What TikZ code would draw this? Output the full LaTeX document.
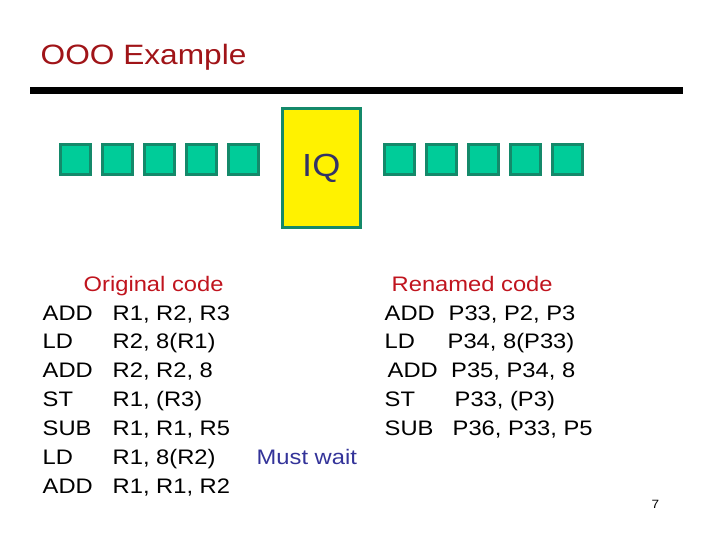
\documentclass[tikz,border=0pt]{standalone}
\usepackage{fontspec}
\setmainfont{Liberation Sans}[FakeStretch=1.13]
\newfontfamily\headfont{Liberation Sans}[FakeStretch=1.13]
\usetikzlibrary{positioning}
\definecolor{titlered}{HTML}{A01418}
\definecolor{labelred}{HTML}{C0141E}
\definecolor{slotgreen}{HTML}{00CC99}
\definecolor{slotedge}{HTML}{14896A}
\definecolor{iqblue}{HTML}{333366}
\definecolor{waitblue}{HTML}{333399}

\begin{document}
\begin{tikzpicture}[x=1pt, y=-1pt,
  slot/.style={draw=slotedge, fill=slotgreen, line width=3pt, minimum size=30pt, inner sep=0pt},
  codeline/.style={anchor=base west, inner sep=0pt, font=\fontsize{21}{25}\selectfont}]

% Page frame
\useasboundingbox (0,0) rectangle (720,540);

%%% Title and rule %%%
\node[anchor=base west, inner sep=0pt, text=titlered, font=\headfont\fontsize{28}{32}\selectfont] (title) at (40.5,65) {OOO Example};
\draw[line width=7pt] (30,90.5) -- (683,90.5);

%%% Instruction queue with waiting and issued slots %%%
\foreach \i in {0,...,4}
  \node[slot] (wait\i) at ({75.5+42*\i},159.5) {};
\node[draw=slotedge, fill=yellow, line width=3pt, minimum width=77.7pt, minimum height=119pt,
  text=iqblue, font=\fontsize{32}{36}\selectfont] (iq) at (321.3,168.3) {IQ};
\foreach \i in {0,...,4}
  \node[slot] (issue\i) at ({399.5+42*\i},159.5) {};

%%% Original code %%%
\node[codeline, text=labelred] (orighead) at (83.5,291) {Original code};
\foreach \op/\args/\y [count=\n] in {ADD/{R1, R2, R3}/320, LD/{R2, 8(R1)}/348.9,
    ADD/{R2, R2, 8}/377.7, ST/{R1, (R3)}/406.6, SUB/{R1, R1, R5}/435.4,
    LD/{R1, 8(R2)}/464.3, ADD/{R1, R1, R2}/493.1} {
  \node[codeline] (origop\n) at (42.5,\y) {\op};
  \node[codeline] (origargs\n) at (112.5,\y) {\args};
}
\node[codeline, text=waitblue] (mustwait) at (256.5,464.3) {Must wait};

%%% Renamed code %%%
\node[codeline, text=labelred] (renhead) at (391.5,291) {Renamed code};
\foreach \op/\ox/\args/\ax/\y [count=\n] in {ADD/384.5/{P33, P2, P3}/448.5/320,
    LD/384.5/{P34, 8(P33)}/447.5/348.9, ADD/387.5/{P35, P34, 8}/451/377.7,
    ST/384.5/{P33, (P3)}/454.5/406.6, SUB/384.5/{P36, P33, P5}/452.5/435.4} {
  \node[codeline] (renop\n) at (\ox,\y) {\op};
  \node[codeline] (renargs\n) at (\ax,\y) {\args};
}

% Slide number
\node[anchor=base west, inner sep=0pt, font=\fontsize{12}{14}\selectfont] (pageno) at (651.5,508) {7};

\end{tikzpicture}
\end{document}
